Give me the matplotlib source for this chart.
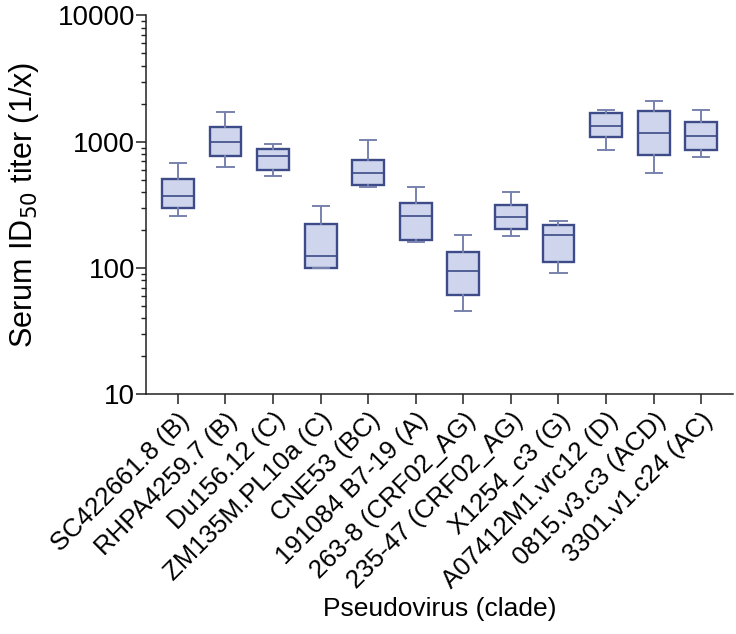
import matplotlib
matplotlib.use('Agg')
import matplotlib.pyplot as plt
from matplotlib.ticker import LogLocator, NullFormatter, FixedLocator

plt.rcParams['font.family'] = ['Liberation Sans', 'DejaVu Sans']

# pseudovirus panel
viruses = ['SC422661.8 (B)', 'RHPA4259.7 (B)', 'Du156.12 (C)', 'ZM135M.PL10a (C)',
           'CNE53 (BC)', '191084 B7-19 (A)', '263-8 (CRF02_AG)', '235-47 (CRF02_AG)',
           'X1254_c3 (G)', 'A07412M1.vrc12 (D)', '0815.v3.c3 (ACD)', '3301.v1.c24 (AC)']
whis_lo = [257, 634, 538, 100, 438, 162, 46, 178, 92, 864, 565, 761]
q1 = [297, 765, 597, 100, 457, 168, 61, 204, 111, 1096, 785, 853]
median = [370, 1000, 765, 124, 561, 257, 95, 254, 184, 1330, 1178, 1115]
q3 = [507, 1306, 876, 223, 716, 327, 133, 318, 219, 1686, 1746, 1439]
whis_hi = [682, 1706, 953, 310, 1037, 435, 182, 400, 237, 1791, 2084, 1782]

edge = '#3d4b88'
fill = '#ced5ed'
whisk = '#7882ae'

stats = []
for i in range(len(viruses)):
    stats.append(dict(label=viruses[i], whislo=whis_lo[i], q1=q1[i], med=median[i],
                      q3=q3[i], whishi=whis_hi[i], fliers=[]))

fig = plt.figure(figsize=(7.36, 6.34), dpi=100)
ax = fig.add_axes([0.1984, 0.378, 0.7976, 0.5976])

ax.bxp(stats, positions=range(len(viruses)), widths=0.67, capwidths=0.34,
       patch_artist=True, showfliers=False,
       boxprops=dict(facecolor=fill, edgecolor=edge, linewidth=1.7),
       medianprops=dict(color=edge, linewidth=1.2),
       whiskerprops=dict(color=whisk, linewidth=1.4),
       capprops=dict(color=whisk, linewidth=1.4))

ax.set_yscale('log')
ax.set_ylim(10, 10000)
ax.set_xlim(-0.67, len(viruses) - 1 + 0.67)
ax.yaxis.set_major_locator(FixedLocator([10, 100, 1000, 10000]))
ax.yaxis.set_minor_locator(LogLocator(base=10, subs=range(2, 10)))
ax.yaxis.set_minor_formatter(NullFormatter())
ax.set_yticklabels(['10', '100', '1000', '10000'])

ax.set_xticks(range(len(viruses)))
ax.set_xticklabels(viruses, rotation=45, ha='right', rotation_mode='anchor', fontsize=18.5)

for s in ['top', 'right']:
    ax.spines[s].set_visible(False)
for s in ['left', 'bottom']:
    ax.spines[s].set_linewidth(1.1)
    ax.spines[s].set_color('#222222')

ax.tick_params(axis='y', which='major', length=7, width=1.1, labelsize=20, color='#222222', pad=1)
ax.tick_params(axis='y', which='minor', length=3.5, width=1.0, color='#222222')
ax.tick_params(axis='x', which='major', length=7, width=1.1, color='#222222', pad=3)

ax.set_ylabel('Serum ID$_{50}$ titer (1/x)', fontsize=22, labelpad=12)
ax.set_xlabel('Pseudovirus (clade)', fontsize=19, labelpad=3)

fig.savefig('out.png', dpi=100)
